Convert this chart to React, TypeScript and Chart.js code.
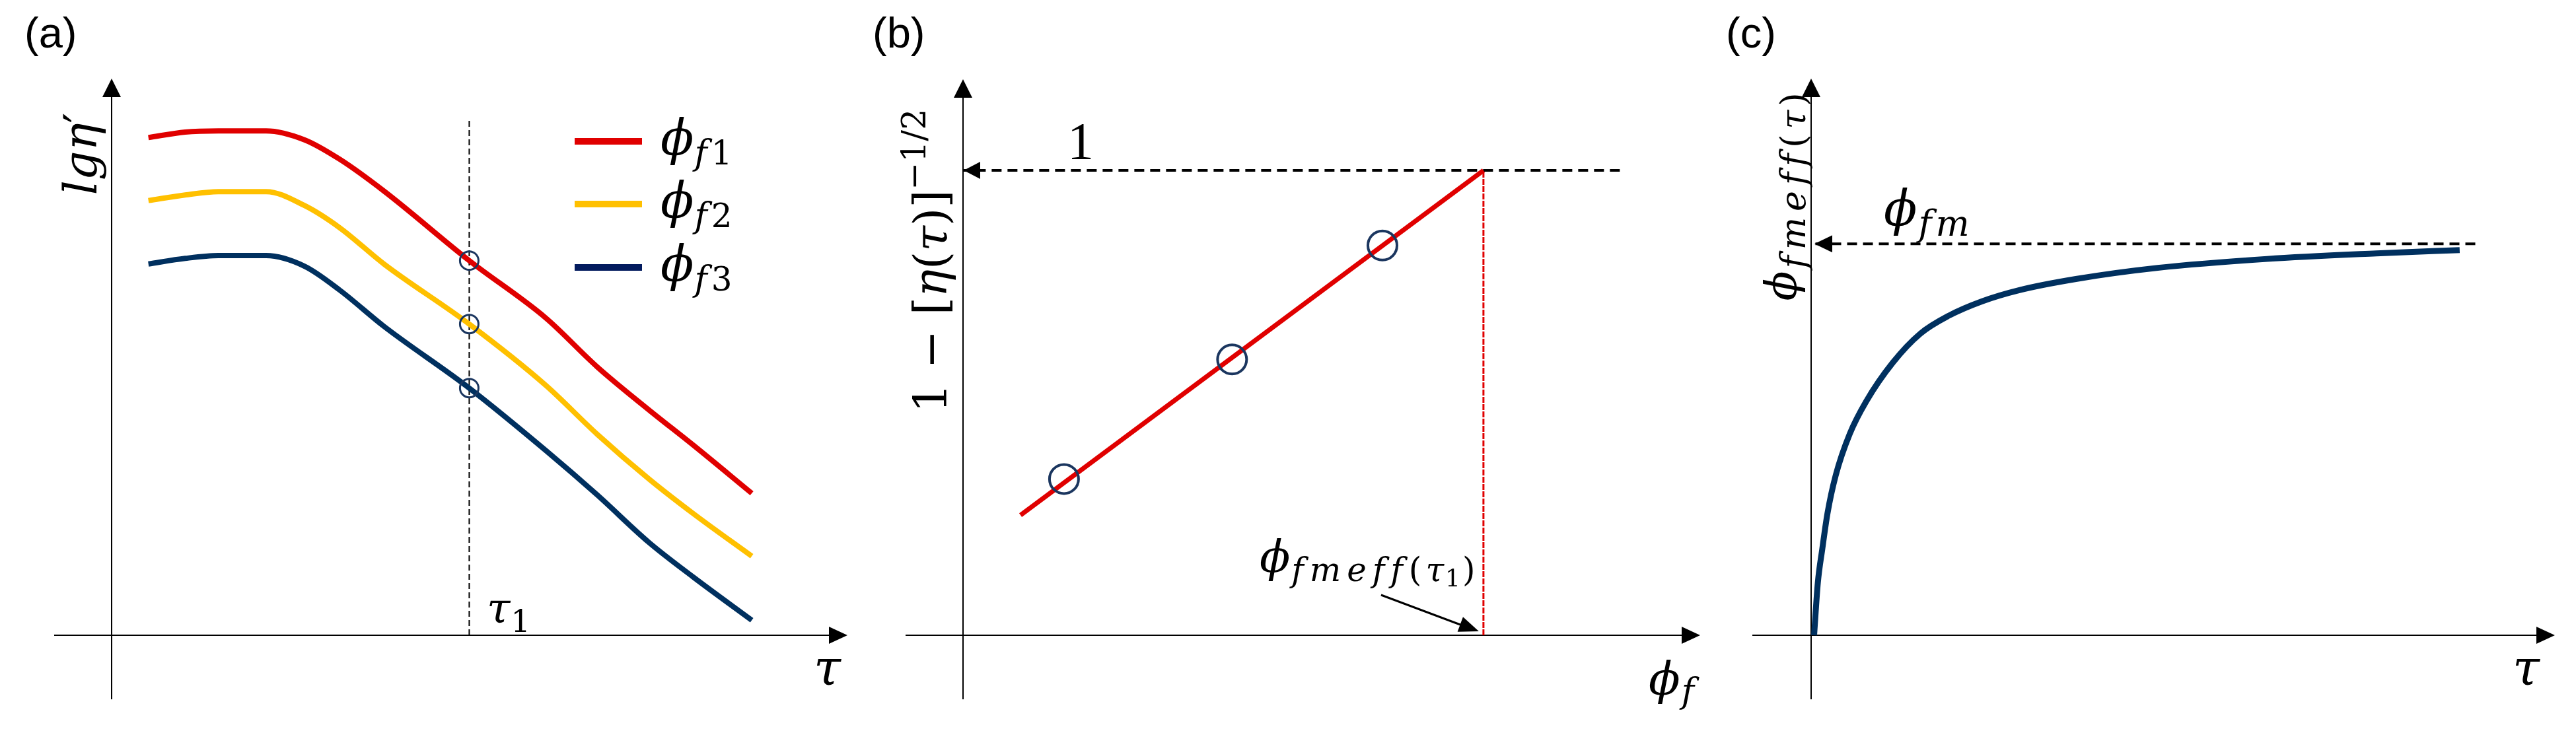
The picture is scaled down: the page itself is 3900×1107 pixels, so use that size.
import React, { useEffect, useRef } from "react";
import { Chart, registerables } from "chart.js";
Chart.register(...registerables);

// ---------------- data (schematic units, 0..10 on each axis) ----------------
// Panel (a): lg eta' vs tau for three filler fractions
const tauA = [0.5, 1.0, 1.45, 2.1, 2.62, 3.1, 3.7, 4.86, 5.9, 6.6, 7.3, 7.9, 8.7];
const etaPhi1 = [8.94, 9.04, 9.06, 9.06, 8.9, 8.55, 7.98, 6.73, 5.7, 4.82, 4.05, 3.42, 2.55];
const etaPhi2 = [7.81, 7.91, 7.97, 7.97, 7.72, 7.32, 6.67, 5.59, 4.49, 3.61, 2.81, 2.19, 1.42];
const etaPhi3 = [6.67, 6.77, 6.82, 6.82, 6.63, 6.2, 5.55, 4.44, 3.32, 2.52, 1.67, 1.05, 0.27];
const legendSubs = ["1", "2", "3"];
const tau1 = 4.86;
const tau1Top = 9.28;

// Panel (b): 1-[eta(tau)]^-1/2 vs phi_f
const fitX = [0.78, 7.06];
const fitY = [2.16, 8.36];
const ptsX = [1.37, 3.65, 5.69];
const ptsY = [2.81, 4.96, 7.01];
const unitLevel = 8.36;
const phiFmeffTau1 = 7.06;
const unitLineEnd = 8.91;

// Panel (c): phi_fmeff(tau) vs tau
const tauC = [0.04, 0.09, 0.15, 0.22, 0.33, 0.52, 0.74, 1.1, 1.47, 1.85, 2.3, 2.8, 3.56, 4.66, 6.13, 7.6, 8.72];
const phiEff = [0, 0.94, 1.55, 2.19, 2.87, 3.62, 4.2, 4.9, 5.42, 5.74, 6.0, 6.2, 6.4, 6.6, 6.76, 6.86, 6.92];
const phiFm = 7.03;
const phiFmLineEnd = 8.93;

// ---------------- styles ----------------
const RED = "#E00000";
const YELLOW = "#FFC000";
const NAVY = "#00305F";
const LEGEND_NAVY = "#031B5E";
const CIRCLE = "#1B365F";
const MATH = "'DejaVu Serif', 'Liberation Serif', serif";
const TIMES = "'Liberation Serif', serif";
const SANS = "'Liberation Sans', Arial, sans-serif";
const W = 1300;
const H = 1107;

type Run = { t: string; size: number; italic?: boolean; dy?: number; fam?: string; ls?: number };

function fontOf(r: Run) {
  return `${r.italic ? "italic " : ""}${r.size}px ${r.fam || MATH}`;
}
function runWidth(ctx: CanvasRenderingContext2D, r: Run) {
  ctx.font = fontOf(r);
  if (!r.ls) return ctx.measureText(r.t).width;
  let w = 0;
  for (const ch of Array.from(r.t)) w += ctx.measureText(ch).width + r.ls;
  return w;
}
function runsWidth(ctx: CanvasRenderingContext2D, runs: Run[]) {
  let w = 0;
  for (const r of runs) w += runWidth(ctx, r);
  return w;
}
function drawRuns(ctx: CanvasRenderingContext2D, runs: Run[], x: number, y: number) {
  ctx.textBaseline = "alphabetic";
  ctx.textAlign = "left";
  let cx = x;
  for (const r of runs) {
    ctx.font = fontOf(r);
    if (!r.ls) {
      ctx.fillText(r.t, cx, y + (r.dy || 0));
      cx += ctx.measureText(r.t).width;
    } else {
      for (const ch of Array.from(r.t)) {
        ctx.fillText(ch, cx, y + (r.dy || 0));
        cx += ctx.measureText(ch).width + r.ls;
      }
    }
  }
  return cx - x;
}
function drawRotated(ctx: CanvasRenderingContext2D, runs: Run[], baseX: number, centerY: number) {
  ctx.save();
  ctx.translate(baseX, centerY);
  ctx.rotate(-Math.PI / 2);
  const w = runsWidth(ctx, runs);
  drawRuns(ctx, runs, -w / 2, 0);
  ctx.restore();
}
function tri(ctx: CanvasRenderingContext2D, tipX: number, tipY: number, ux: number, uy: number, len: number, hw: number) {
  const bx = tipX - ux * len;
  const by = tipY - uy * len;
  ctx.beginPath();
  ctx.moveTo(tipX, tipY);
  ctx.lineTo(bx - uy * hw, by + ux * hw);
  ctx.lineTo(bx + uy * hw, by - ux * hw);
  ctx.closePath();
  ctx.fill();
}

function axesPlugin(extL: number, extB: number) {
  return {
    id: "axesArrows",
    beforeDatasetsDraw(chart: any) {
      const { ctx, chartArea, scales } = chart;
      const ox = scales.x.getPixelForValue(0);
      const oy = scales.y.getPixelForValue(0);
      ctx.save();
      ctx.strokeStyle = "#000";
      ctx.fillStyle = "#000";
      ctx.lineWidth = 2;
      ctx.beginPath();
      ctx.moveTo(ox - extL, oy);
      ctx.lineTo(chartArea.right - 20, oy);
      ctx.stroke();
      ctx.beginPath();
      ctx.moveTo(ox, oy + extB);
      ctx.lineTo(ox, chartArea.top + 20);
      ctx.stroke();
      tri(ctx, chartArea.right, oy, 1, 0, 28, 13);
      tri(ctx, ox, chartArea.top, 0, -1, 28, 14);
      ctx.restore();
    },
  };
}

function pts(xs: number[], ys: number[]) {
  return xs.map((x, i) => ({ x, y: ys[i] }));
}

function baseOptions(padding: any) {
  return {
    animation: false,
    responsive: false,
    maintainAspectRatio: false,
    events: [],
    layout: { padding },
    plugins: { legend: { display: false }, tooltip: { enabled: false }, title: { display: false } },
    scales: {
      x: { type: "linear", min: 0, max: 10, display: false },
      y: { type: "linear", min: 0, max: 10, display: false },
    },
  };
}

function lineDs(data: any[], color: string, width: number, extra: any = {}) {
  return {
    data,
    showLine: true,
    borderColor: color,
    backgroundColor: color,
    borderWidth: width,
    pointRadius: 0,
    fill: false,
    clip: false,
    cubicInterpolationMode: "monotone",
    borderCapStyle: "butt",
    ...extra,
  };
}

function makeA(canvas: HTMLCanvasElement) {
  const iT = tauA.indexOf(tau1);
  const series = [etaPhi1, etaPhi2, etaPhi3];
  const colors = [RED, YELLOW, NAVY];
  const legendColors = [RED, YELLOW, LEGEND_NAVY];
  const labelPlugin = {
    id: "labelsA",
    afterDatasetsDraw(chart: any) {
      const ctx = chart.ctx as CanvasRenderingContext2D;
      ctx.save();
      ctx.fillStyle = "#000";
      drawRuns(ctx, [{ t: "(a)", size: 65, fam: SANS }], 37, 72);
      drawRotated(ctx, [{ t: "lgη", size: 70, italic: true }, { t: "′", size: 70 }], 146, 233);
      drawRuns(ctx, [{ t: "τ", size: 64, italic: true, ls: 1 }, { t: "1", size: 46, dy: 14 }], 737, 943);
      drawRuns(ctx, [{ t: "τ", size: 74, italic: true }], 1232, 1037);
      const ly = [214, 309, 405];
      for (let i = 0; i < 3; i++) {
        ctx.strokeStyle = legendColors[i];
        ctx.lineWidth = 10;
        ctx.beginPath();
        ctx.moveTo(870, ly[i]);
        ctx.lineTo(972, ly[i]);
        ctx.stroke();
        drawRuns(
          ctx,
          [
            { t: "ϕ", size: 74, italic: true, ls: 1 },
            { t: "f", size: 52, italic: true, dy: 15, ls: 6 },
            { t: legendSubs[i], size: 50, dy: 15 },
          ],
          1000,
          ly[i] + 20
        );
      }
      ctx.restore();
    },
  };
  return new Chart(canvas, {
    type: "scatter",
    data: {
      datasets: [
        {
          data: series.map((s) => ({ x: tau1, y: s[iT] })),
          showLine: false,
          pointRadius: 14,
          pointBorderWidth: 3,
          pointBorderColor: CIRCLE,
          pointBackgroundColor: "rgba(0,0,0,0)",
          clip: false,
        },
        lineDs(pts(tauA, etaPhi1), colors[0], 8),
        lineDs(pts(tauA, etaPhi2), colors[1], 8),
        lineDs(pts(tauA, etaPhi3), colors[2], 8),
        lineDs([{ x: tau1, y: 0 }, { x: tau1, y: tau1Top }], "#000", 2, {
          borderDash: [9, 5],
          cubicInterpolationMode: "default",
        }),
      ],
    } as any,
    options: baseOptions({ left: 169, right: 3, top: 119, bottom: 145 }) as any,
    plugins: [axesPlugin(87, 97), labelPlugin],
  });
}

function makeB(canvas: HTMLCanvasElement) {
  const labelPlugin = {
    id: "labelsB",
    afterDatasetsDraw(chart: any) {
      const ctx = chart.ctx as CanvasRenderingContext2D;
      const { x, y } = chart.scales;
      const oy = y.getPixelForValue(0);
      const ox = x.getPixelForValue(0);
      ctx.save();
      ctx.fillStyle = "#000";
      ctx.strokeStyle = "#000";
      tri(ctx, ox + 1, y.getPixelForValue(unitLevel), -1, 0, 25, 13);
      drawRuns(ctx, [{ t: "(b)", size: 65, fam: SANS }], 21, 72);
      drawRuns(ctx, [{ t: "1", size: 80, fam: TIMES }], 316, 241);
      drawRotated(
        ctx,
        [
          { t: "1 − [", size: 70 },
          { t: "η", size: 70, italic: true },
          { t: "(", size: 70 },
          { t: "τ", size: 70, italic: true },
          { t: ")]", size: 70 },
          { t: "−1/2", size: 50, dy: -32 },
        ],
        133,
        395
      );
      drawRuns(
        ctx,
        [
          { t: "ϕ", size: 68, italic: true, ls: 2 },
          { t: "fmeff", size: 50, italic: true, dy: 14, ls: 9 },
          { t: "(", size: 50, dy: 14, ls: 6 },
          { t: "τ", size: 50, italic: true, dy: 14, ls: 2 },
          { t: "1", size: 36, dy: 22, ls: 3 },
          { t: ")", size: 50, dy: 14 },
        ],
        607,
        866
      );
      // pointer arrow to phi_fmeff(tau1)
      const tipX = x.getPixelForValue(phiFmeffTau1) - 7;
      const tipY = oy - 6;
      ctx.lineWidth = 3;
      ctx.beginPath();
      ctx.moveTo(tipX - 148, tipY - 55);
      ctx.lineTo(tipX - 20, tipY - 7);
      ctx.stroke();
      const d = Math.hypot(148, 55);
      tri(ctx, tipX, tipY, 148 / d, 55 / d, 30, 12);
      drawRuns(
        ctx,
        [
          { t: "ϕ", size: 70, italic: true, ls: 2 },
          { t: "f", size: 52, italic: true, dy: 12 },
        ],
        1196,
        1052
      );
      ctx.restore();
    },
  };
  return new Chart(canvas, {
    type: "scatter",
    data: {
      datasets: [
        {
          data: pts(ptsX, ptsY),
          showLine: false,
          pointRadius: 22,
          pointBorderWidth: 4,
          pointBorderColor: CIRCLE,
          pointBackgroundColor: "rgba(0,0,0,0)",
          clip: false,
        },
        lineDs(pts(fitX, fitY), RED, 7, { cubicInterpolationMode: "default" }),
        lineDs([{ x: phiFmeffTau1, y: 0 }, { x: phiFmeffTau1, y: unitLevel }], RED, 3, {
          borderDash: [9, 2],
          cubicInterpolationMode: "default",
        }),
        lineDs([{ x: unitLineEnd, y: unitLevel }, { x: 0, y: unitLevel }], "#000", 4, {
          borderDash: [15, 9],
          cubicInterpolationMode: "default",
        }),
      ],
    } as any,
    options: baseOptions({ left: 158, right: 10, top: 120, bottom: 145 }) as any,
    plugins: [axesPlugin(87, 97), labelPlugin],
  });
}

function makeC(canvas: HTMLCanvasElement) {
  const labelPlugin = {
    id: "labelsC",
    afterDatasetsDraw(chart: any) {
      const ctx = chart.ctx as CanvasRenderingContext2D;
      const { x, y } = chart.scales;
      const ox = x.getPixelForValue(0);
      ctx.save();
      ctx.fillStyle = "#000";
      tri(ctx, ox + 5, y.getPixelForValue(phiFm), -1, 0, 27, 13);
      drawRuns(ctx, [{ t: "(c)", size: 65, fam: SANS }], 13, 72);
      drawRuns(
        ctx,
        [
          { t: "ϕ", size: 74, italic: true, ls: 2 },
          { t: "fm", size: 54, italic: true, dy: 16, ls: 6 },
        ],
        252,
        341
      );
      drawRotated(
        ctx,
        [
          { t: "ϕ", size: 66, italic: true, ls: 4 },
          { t: "fmeff", size: 52, italic: true, dy: 14, ls: 9 },
          { t: "(", size: 52, dy: 14, ls: 8 },
          { t: "τ", size: 52, italic: true, dy: 14, ls: 6 },
          { t: ")", size: 52, dy: 14 },
        ],
        119,
        298
      );
      drawRuns(ctx, [{ t: "τ", size: 74, italic: true }], 1204, 1037);
      ctx.restore();
    },
  };
  return new Chart(canvas, {
    type: "scatter",
    data: {
      datasets: [
        lineDs(pts(tauC, phiEff), NAVY, 9),
        lineDs([{ x: phiFmLineEnd, y: phiFm }, { x: 0, y: phiFm }], "#000", 4, {
          borderDash: [15, 9],
          cubicInterpolationMode: "default",
        }),
      ],
    } as any,
    options: baseOptions({ left: 142, right: 32, top: 119, bottom: 145 }) as any,
    plugins: [axesPlugin(89, 97), labelPlugin],
  });
}

export default function App() {
  const refA = useRef<HTMLCanvasElement>(null);
  const refB = useRef<HTMLCanvasElement>(null);
  const refC = useRef<HTMLCanvasElement>(null);
  useEffect(() => {
    const charts = [makeA(refA.current!), makeB(refB.current!), makeC(refC.current!)];
    return () => charts.forEach((c) => c.destroy());
  }, []);
  const cs = (left: number): React.CSSProperties => ({ position: "absolute", left, top: 0, width: W, height: H });
  return (
    <div style={{ position: "absolute", left: 0, top: 0, width: 3900, height: H, background: "#fff", overflow: "hidden" }}>
      <canvas ref={refA} width={W} height={H} style={cs(0)} />
      <canvas ref={refB} width={W} height={H} style={cs(1300)} />
      <canvas ref={refC} width={W} height={H} style={cs(2600)} />
    </div>
  );
}
